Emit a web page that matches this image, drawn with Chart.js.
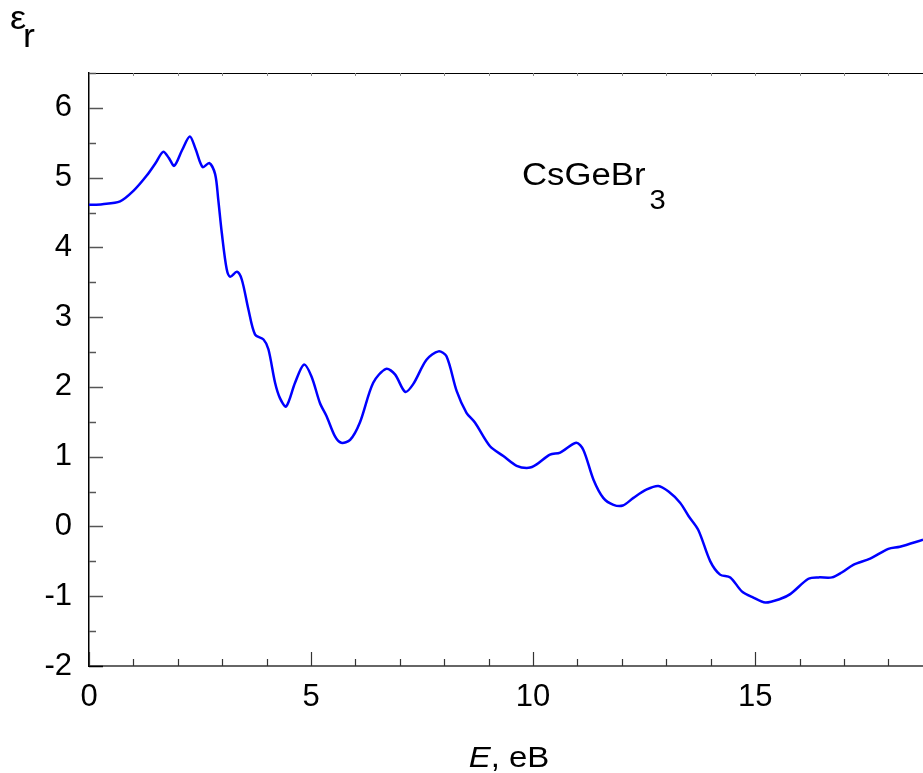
<!DOCTYPE html>
<html>
<head>
<meta charset="utf-8">
<script src="https://cdn.jsdelivr.net/npm/chart.js@4.4.0/dist/chart.umd.min.js"></script>
<style>
  html, body { margin: 0; padding: 0; background: #fff; }
</style>
</head>
<body>
<canvas id="myChart" width="923" height="773"></canvas>
<script>
// data block
var energy = [0, 0.3, 0.7, 1.0, 1.3, 1.5, 1.67, 1.8, 1.92, 2.1, 2.27, 2.4, 2.56, 2.71, 2.84,
  2.91, 2.99, 3.10, 3.18, 3.33, 3.44, 3.59, 3.74, 3.93, 4.04, 4.19, 4.30, 4.44, 4.64, 4.84,
  5.01, 5.20, 5.35, 5.54, 5.68, 5.88, 6.10, 6.40, 6.69, 6.89, 7.12, 7.30, 7.60, 7.87, 8.05,
  8.28, 8.50, 8.69, 9.03, 9.33, 9.63, 9.90, 10.08, 10.38, 10.61, 10.97, 11.13, 11.36, 11.58,
  11.81, 12.02, 12.26, 12.56, 12.82, 13.05, 13.31, 13.50, 13.72, 13.99, 14.21, 14.44, 14.70,
  14.96, 15.23, 15.56, 15.79, 16.20, 16.43, 16.73, 16.95, 17.21, 17.59, 18.00, 18.26, 18.78];
var epsR = [4.61, 4.62, 4.66, 4.81, 5.03, 5.21, 5.37, 5.28, 5.17, 5.40, 5.59, 5.41, 5.15, 5.21, 5.05,
  4.69, 4.21, 3.69, 3.58, 3.65, 3.54, 3.11, 2.75, 2.68, 2.54, 2.06, 1.84, 1.72, 2.06, 2.32,
  2.15, 1.77, 1.58, 1.29, 1.20, 1.24, 1.49, 2.06, 2.26, 2.18, 1.93, 2.04, 2.39, 2.51, 2.44,
  1.94, 1.63, 1.49, 1.15, 1.01, 0.87, 0.84, 0.89, 1.03, 1.06, 1.20, 1.10, 0.67, 0.41,
  0.31, 0.30, 0.41, 0.53, 0.58, 0.50, 0.34, 0.15, -0.05, -0.50, -0.69, -0.73, -0.93,
  -1.02, -1.09, -1.04, -0.97, -0.75, -0.73, -0.73, -0.66, -0.55, -0.46, -0.32, -0.29, -0.19];
var xRange = [0, 18.78];
var yRange = [-2, 6.5];
var xLabelStep = 5;
var yLabelStep = 1;
var compound = 'CsGeBr';
var compoundSub = '3';

var fontFam = '"Liberation Sans", Arial, sans-serif';

var points = energy.map(function (e, i) { return { x: e, y: epsR[i] }; });

// draws text a bit wider, like the original picture
function wideText(ctx, txt, x, y, sx) {
  ctx.save();
  ctx.translate(x, y);
  ctx.scale(sx, 1);
  ctx.fillText(txt, 0, 0);
  ctx.restore();
  return ctx.measureText(txt).width * sx;
}

// extras block: inner ticks, top frame, texts
const extras = {
  id: 'extras',
  afterDraw(chart) {
    const ctx = chart.ctx;
    const area = chart.chartArea;
    const xs = chart.scales.x;
    const ys = chart.scales.y;
    ctx.save();

    // top frame line
    ctx.strokeStyle = '#000';
    ctx.lineWidth = 1;
    ctx.beginPath();
    ctx.moveTo(area.left, area.top + 0.5);
    ctx.lineTo(area.right, area.top + 0.5);
    ctx.stroke();

    // x ticks (inside)
    for (var i = Math.ceil(xRange[0]); i <= xRange[1]; i++) {
      var px = Math.round(xs.getPixelForValue(i)) + 0.5;
      var len = (i % xLabelStep === 0) ? 14 : 7;
      ctx.strokeStyle = '#333';
      ctx.lineWidth = 1.2;
      ctx.beginPath();
      ctx.moveTo(px, area.bottom);
      ctx.lineTo(px, area.bottom - len);
      ctx.stroke();
      // small top ticks
      ctx.strokeStyle = '#888';
      ctx.lineWidth = 1;
      ctx.beginPath();
      ctx.moveTo(px, area.top);
      ctx.lineTo(px, area.top + 3);
      ctx.stroke();
    }

    // y ticks (inside)
    for (var v = yRange[0]; v <= yRange[1]; v += 0.5) {
      var py = Math.round(ys.getPixelForValue(v)) + 0.5;
      var l = (v % 1 === 0) ? 14 : 7;
      ctx.strokeStyle = (v === yRange[0]) ? '#000' : '#555';
      ctx.lineWidth = 1.5;
      ctx.beginPath();
      ctx.moveTo(area.left, py);
      ctx.lineTo(area.left + l, py);
      ctx.stroke();
    }

    ctx.fillStyle = '#000';
    ctx.textBaseline = 'alphabetic';
    ctx.textAlign = 'left';

    // y title: epsilon r
    ctx.font = '33px ' + fontFam;
    wideText(ctx, '\u03B5', 10, 29, 1.1);
    ctx.font = '34px ' + fontFam;
    wideText(ctx, 'r', 23, 47, 1.05);

    // x title: E, eB
    var t1 = 'E';
    var t2 = ', eB';
    ctx.font = 'italic 30px ' + fontFam;
    var w1 = ctx.measureText(t1).width * 1.1;
    ctx.font = '30px ' + fontFam;
    var w2 = ctx.measureText(t2).width * 1.1;
    var sx = 509 - (w1 + w2) / 2;
    ctx.font = 'italic 30px ' + fontFam;
    wideText(ctx, t1, sx, 767, 1.1);
    ctx.font = '30px ' + fontFam;
    wideText(ctx, t2, sx + w1, 767, 1.1);

    // compound label
    ctx.font = '31px ' + fontFam;
    var cw = wideText(ctx, compound, 522, 185, 1.12);
    ctx.font = '27px ' + fontFam;
    wideText(ctx, compoundSub, 522 + cw + 4, 209, 1.08);

    ctx.restore();
  }
};

const config = {
  type: 'line',
  data: {
    datasets: [{
      label: 'epsR',
      data: points,
      borderColor: '#0000ff',
      borderWidth: 2.5,
      pointRadius: 0,
      fill: false,
      tension: 0.3
    }]
  },
  options: {
    responsive: false,
    animation: false,
    devicePixelRatio: 1,
    layout: { padding: { top: 73, right: 0, left: 0, bottom: 0 } },
    plugins: {
      legend: { display: false },
      tooltip: { enabled: false }
    },
    scales: {
      x: {
        type: 'linear',
        position: 'bottom',
        min: xRange[0],
        max: xRange[1],
        grid: { display: false, drawTicks: false },
        border: { display: true, color: '#666', width: 2 },
        ticks: {
          stepSize: xLabelStep,
          includeBounds: false,
          autoSkip: false,
          maxRotation: 0,
          padding: 13,
          color: '#000',
          font: { size: 31, family: fontFam }
        },
        afterFit: function (scale) { scale.height = 107; }
      },
      y: {
        type: 'linear',
        position: 'left',
        min: yRange[0],
        max: yRange[1],
        grid: { display: false, drawTicks: false },
        border: { display: true, color: '#000', width: 1.5 },
        ticks: {
          stepSize: yLabelStep,
          includeBounds: false,
          padding: 17,
          color: '#000',
          font: { size: 31, family: fontFam }
        },
        afterFit: function (scale) { scale.width = 89; }
      }
    }
  },
  plugins: [extras]
};

const myChart = new Chart(document.getElementById('myChart'), config);
</script>
</body>
</html>
